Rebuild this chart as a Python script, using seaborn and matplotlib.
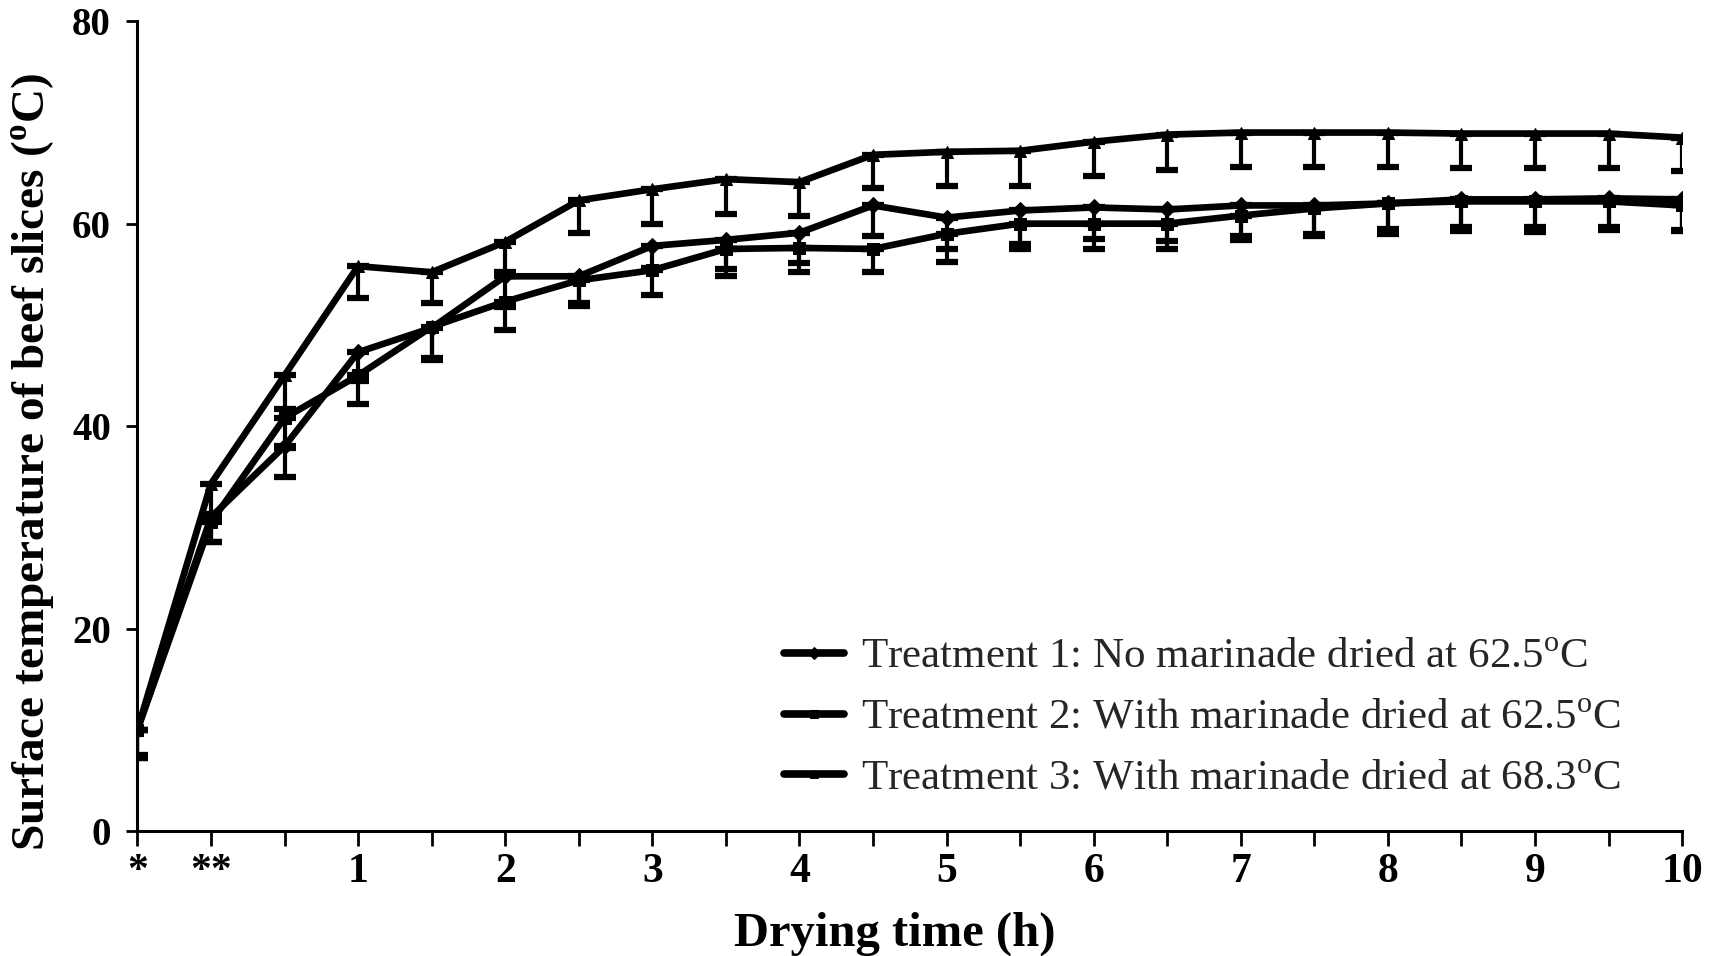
import numpy as np
import pandas as pd
import matplotlib
matplotlib.use("Agg")
import matplotlib.pyplot as plt
import seaborn as sns

# ---- data ----
time_labels = ["*", "**", "", "1", "", "2", "", "3", "", "4", "", "5", "", "6", "", "7", "", "8", "", "9", "", "10"]

t1_mean = [10.0, 31.0, 38.0, 47.3, 49.7, 54.8, 54.8, 57.8, 58.4, 59.1, 61.8, 60.6, 61.3, 61.6, 61.4, 61.8, 61.8, 62.0, 62.4, 62.4, 62.5, 62.4]
t1_err  = [2.8, 2.5, 3.0, 2.8, 3.0, 3.0, 2.6, 2.2, 2.9, 3.0, 3.0, 3.1, 3.3, 3.1, 3.1, 3.0, 3.0, 3.0, 3.1, 3.2, 3.1, 3.0]

t2_mean = [10.0, 30.5, 40.8, 45.0, 49.8, 52.3, 54.4, 55.4, 57.5, 57.6, 57.5, 59.0, 60.0, 60.0, 60.0, 60.8, 61.5, 62.0, 62.2, 62.2, 62.2, 61.8]
t2_err  = [2.5, 2.0, 3.0, 2.8, 3.3, 2.8, 2.5, 2.4, 2.7, 2.4, 2.3, 2.8, 2.5, 2.5, 2.5, 2.4, 2.5, 2.5, 2.5, 2.5, 2.5, 2.5]

t3_mean = [10.0, 34.3, 45.0, 55.8, 55.2, 58.2, 62.3, 63.4, 64.4, 64.1, 66.8, 67.1, 67.2, 68.1, 68.8, 69.0, 69.0, 69.0, 68.9, 68.9, 68.9, 68.5]
t3_err  = [2.8, 3.0, 3.3, 3.1, 3.0, 3.0, 3.2, 3.4, 3.4, 3.3, 3.3, 3.4, 3.5, 3.4, 3.5, 3.4, 3.4, 3.4, 3.4, 3.4, 3.4, 3.3]

treatments = [
    "Treatment 1: No marinade dried at 62.5$^{\\mathregular{o}}$C",
    "Treatment 2: With marinade dried at 62.5$^{\\mathregular{o}}$C",
    "Treatment 3: With marinade dried at 68.3$^{\\mathregular{o}}$C",
]

x_label = "Drying time (h)"
y_label = "Surface temperature of beef slices ($^{\\mathregular{o}}$C)"

# ---- build long table ----
idx = np.arange(len(time_labels))
frames = []
for name, m in zip(treatments, [t1_mean, t2_mean, t3_mean]):
    frames.append(pd.DataFrame({"pos": idx, "temp": m, "treatment": name}))
df = pd.concat(frames, ignore_index=True)

sns.set_theme(style="ticks")
plt.rcParams["font.family"] = ["Liberation Serif", "DejaVu Serif"]
plt.rcParams["mathtext.fontset"] = "custom"
plt.rcParams["mathtext.rm"] = "Liberation Serif"

fig = plt.figure(figsize=(17.24, 9.56), dpi=100)
ax = fig.add_axes([0.0797, 0.1308, 0.896, 0.847])

markers = {treatments[0]: "D", treatments[1]: "s", treatments[2]: "^"}
sns.lineplot(data=df, x="pos", y="temp", style="treatment", markers=markers,
             dashes=False, color="black", linewidth=4.8, markersize=8,
             markeredgecolor="black", ax=ax, legend=True)

for m, e in zip([t1_mean, t2_mean, t3_mean], [t1_err, t2_err, t3_err]):
    ax.errorbar(idx, m, yerr=[e, np.zeros(len(e))], fmt="none", ecolor="black",
                elinewidth=3, capsize=8, capthick=4.5, zorder=1)

ax.set_xlim(0, 21)
ax.set_ylim(0, 80)
ax.set_xticks(idx)
ax.set_xticklabels(time_labels)
ax.set_yticks([0, 20, 40, 60, 80])
sns.despine(ax=ax)
for s in ["left", "bottom"]:
    ax.spines[s].set_linewidth(2.2)
    ax.spines[s].set_color("black")

ax.tick_params(axis="x", length=11, width=2, pad=5, labelsize=30, colors="black")
ax.tick_params(axis="y", length=8, width=2, pad=11, labelsize=28, colors="black")
for lab in ax.get_xticklabels() + ax.get_yticklabels():
    lab.set_fontweight("bold")

ax.set_xlabel(x_label, fontsize=35, fontweight="bold", color="black")
ax.xaxis.set_label_coords(0.49, -0.100)
ax.set_ylabel(y_label, fontsize=34, fontweight="bold", color="black")
ax.yaxis.set_label_coords(-0.052, 0.4556)

handles, labels = ax.get_legend_handles_labels()
leg = ax.legend(handles, labels, loc="upper left",
                bbox_to_anchor=(784 / 1724, 1 - 638 / 956), bbox_transform=fig.transFigure,
                frameon=False, fontsize=31, handlelength=1.4, handletextpad=0.38,
                labelspacing=0.5, borderpad=0, borderaxespad=0)
for line in leg.get_lines():
    line.set_linewidth(5.5)
    line.set_markersize(6)

fig.savefig("out.png", dpi=100, facecolor="white")
